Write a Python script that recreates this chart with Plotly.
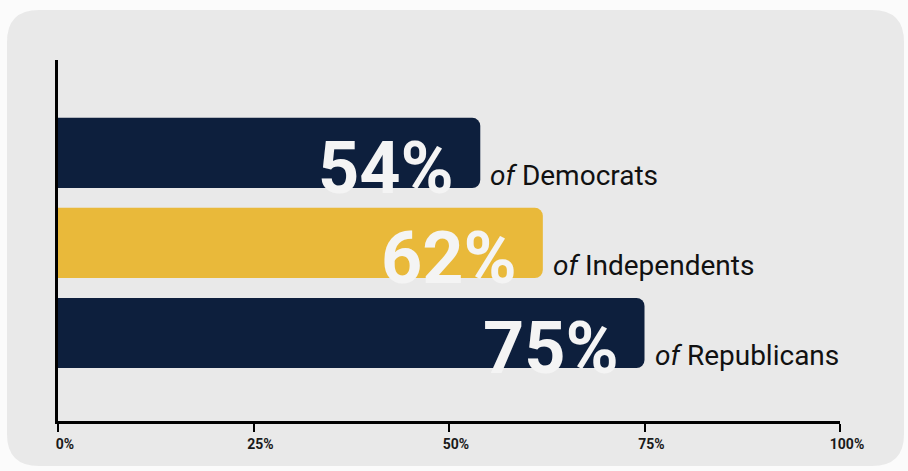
import plotly.graph_objects as go

# ---- data ----
groups = ["Democrats", "Independents", "Republicans"]
values = [54, 62, 75]
bar_colors = ["#0d1f3d", "#e9b93a", "#0d1f3d"]
tick_vals = [0, 25, 50, 75, 100]
tick_text = ["0%", "25%", "50%", "75%", "100%"]

W, H = 908, 471
ML, MR, MT, MB = 58, 68, 60, 50
PW = W - ML - MR
PH = H - MT - MB

FONT = "Roboto, Liberation Sans Narrow, DejaVu Sans Condensed, sans-serif"

fig = go.Figure()
fig.add_trace(go.Bar(
    x=values, y=groups, orientation="h",
    marker=dict(color=bar_colors, cornerradius=8, line=dict(width=0)),
    width=0.78, hoverinfo="skip", showlegend=False,
))

# rounded background panel (paper coords mapped from pixels)
def px2x(px):
    return (px - ML) / PW

def py2y(py):
    return (H - MB - py) / PH

x0, x1, y0, y1, r = 7, 904, 10, 466, 32
rx, ry = r / PW, r / PH
path = (
    f"M {px2x(x0)+rx} {py2y(y0)} "
    f"L {px2x(x1)-rx} {py2y(y0)} "
    f"Q {px2x(x1)} {py2y(y0)} {px2x(x1)} {py2y(y0)-ry} "
    f"L {px2x(x1)} {py2y(y1)+ry} "
    f"Q {px2x(x1)} {py2y(y1)} {px2x(x1)-rx} {py2y(y1)} "
    f"L {px2x(x0)+rx} {py2y(y1)} "
    f"Q {px2x(x0)} {py2y(y1)} {px2x(x0)} {py2y(y1)+ry} "
    f"L {px2x(x0)} {py2y(y0)-ry} "
    f"Q {px2x(x0)} {py2y(y0)} {px2x(x0)+rx} {py2y(y0)} Z"
)
fig.add_shape(type="path", path=path, xref="paper", yref="paper",
              fillcolor="#e9e9e9", line=dict(width=0), layer="below")

annotations = []
for g, v in zip(groups, values):
    annotations.append(dict(
        x=v, y=g, xref="x", yref="y", text=f"<b>{v}%</b>",
        showarrow=False, xanchor="right", yanchor="middle",
        xshift=-24, yshift=-16,
        font=dict(family=FONT, size=72, color="#f4f4f4"),
    ))
    annotations.append(dict(
        x=v, y=g, xref="x", yref="y", text=f"<i>of</i> {g}",
        showarrow=False, xanchor="left", yanchor="middle",
        xshift=8, yshift=-23,
        font=dict(family=FONT, size=28, color="#111111"),
    ))

fig.update_layout(
    width=W, height=H,
    margin=dict(l=ML, r=MR, t=MT, b=MB, pad=0),
    paper_bgcolor="#fbfbfb", plot_bgcolor="rgba(0,0,0,0)",
    annotations=annotations,
    bargap=0.22,
    xaxis=dict(
        range=[0, 100], tickvals=tick_vals, ticktext=tick_text,
        showline=True, linewidth=3, linecolor="#000000",
        ticks="outside", ticklen=8, tickwidth=2, tickcolor="#000000",
        showgrid=False, zeroline=False, ticklabelshift=7,
        tickfont=dict(family=FONT, size=14, color="#1a1a1a", weight="bold"),
        fixedrange=True,
    ),
    yaxis=dict(
        range=[2.978, -1.033], type="category",
        showline=True, linewidth=3, linecolor="#000000",
        showticklabels=False, ticks="", showgrid=False, zeroline=False,
        fixedrange=True,
    ),
)

fig.write_html("out.html")
